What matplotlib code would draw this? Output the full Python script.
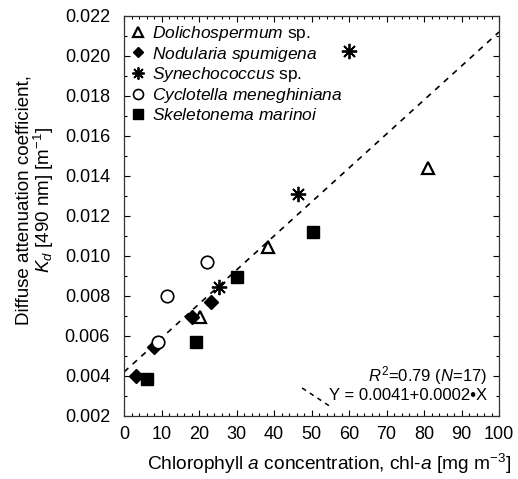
import numpy as np
import matplotlib
matplotlib.use("Agg")
import matplotlib.pyplot as plt
from matplotlib.ticker import MultipleLocator, FormatStrFormatter

plt.rcParams['font.family'] = ['Liberation Sans', 'DejaVu Sans']
plt.rcParams['mathtext.fontset'] = 'custom'
plt.rcParams['mathtext.rm'] = 'Liberation Sans'
plt.rcParams['mathtext.it'] = 'Liberation Sans:italic'
plt.rcParams['mathtext.bf'] = 'Liberation Sans:bold'

# Data
doli_x = [20.3, 38.3, 81.0]
doli_y = [0.00697, 0.01047, 0.01440]
nodu_x = [3.1, 8.0, 18.0, 23.3]
nodu_y = [0.00400, 0.00547, 0.00697, 0.00772]
syne_x = [25.3, 46.3, 60.1]
syne_y = [0.00847, 0.01310, 0.02027]
cycl_x = [9.15, 11.4, 22.2]
cycl_y = [0.00572, 0.00800, 0.00970]
skel_x = [6.2, 19.2, 30.2, 50.3]
skel_y = [0.00387, 0.00572, 0.00893, 0.01120]

labels = [r"$\it{Dolichospermum}$ sp.", r"$\it{Nodularia\ spumigena}$",
          r"$\it{Synechococcus}$ sp.", r"$\it{Cyclotella\ meneghiniana}$",
          r"$\it{Skeletonema\ marinoi}$"]

fit_intercept = 0.0042
fit_slope = 0.00017

fig = plt.figure(figsize=(5.18, 4.79), dpi=100)
ax = fig.add_axes([124/518, 1-416/479, 375/518, 400/479])

ax.set_xlim(0, 100)
ax.set_ylim(0.002, 0.022)

xx = np.array([0, 100])
ax.plot(xx, fit_intercept + fit_slope*xx, color='black', lw=1.2,
        dashes=(3.5, 3.5), zorder=1)

h1, = ax.plot(doli_x, doli_y, ls='none', marker='^', ms=8.5, mfc='white',
              mec='black', mew=1.6, label=labels[0], zorder=3)
h2, = ax.plot(nodu_x, nodu_y, ls='none', marker='D', ms=7, mfc='black',
              mec='black', label=labels[1], zorder=3)
h3, = ax.plot(syne_x, syne_y, ls='none', marker=(8, 2, 0), ms=11, mfc='black',
              mec='black', mew=1.3, label=labels[2], zorder=3)
h4, = ax.plot(cycl_x, cycl_y, ls='none', marker='o', ms=9, mfc='white',
              mec='black', mew=1.2, label=labels[3], zorder=3)
h5, = ax.plot(skel_x, skel_y, ls='none', marker='s', ms=9, mfc='black',
              mec='black', label=labels[4], zorder=3)

leg = ax.legend(handles=[h1, h2, h3, h4, h5], loc='upper left',
                bbox_to_anchor=(0.0, 1.0), frameon=False, fontsize=12.5,
                markerscale=0.8, handlelength=0.7, handletextpad=0.45,
                labelspacing=0.1, borderaxespad=0.2, borderpad=0.25)

ax.text(0.968, 0.10, r"$R^2$=0.79 ($N$=17)", transform=ax.transAxes,
        ha='right', va='center', fontsize=12)
ax.text(0.968, 0.05, "Y = 0.0041+0.0002\u2022X", transform=ax.transAxes,
        ha='right', va='center', fontsize=12)
ax.plot([0.475, 0.552], [0.07, 0.0225], transform=ax.transAxes, color='black',
        lw=1.1, dashes=(3, 3))

ax.xaxis.set_major_locator(MultipleLocator(10))
ax.xaxis.set_minor_locator(MultipleLocator(2))
ax.yaxis.set_major_locator(MultipleLocator(0.002))
ax.yaxis.set_minor_locator(MultipleLocator(0.001))
ax.yaxis.set_major_formatter(FormatStrFormatter('%.3f'))
ax.tick_params(which='both', direction='in', top=True, right=True,
               labelsize=13, width=0.8, colors='black')
ax.tick_params(which='major', length=4)
ax.tick_params(which='minor', length=2.5)
ax.tick_params(axis='x', which='major', pad=7.5)
ax.tick_params(axis='y', which='major', pad=10)
for s in ax.spines.values():
    s.set_linewidth(0.9)
    s.set_color('#333333')

ax.set_xlabel("Chlorophyll $a$ concentration, chl-$a$ [mg m$^{-3}$]",
              fontsize=13.8)
ax.xaxis.set_label_coords(0.548, -0.09)
ax.set_ylabel("Diffuse attenuation coefficient,\n$K_d$ [490 nm] [m$^{-1}$]",
              fontsize=13.5, linespacing=1.0)
ax.yaxis.set_label_coords(-0.18, 0.54)

fig.savefig("out.png", dpi=100)
